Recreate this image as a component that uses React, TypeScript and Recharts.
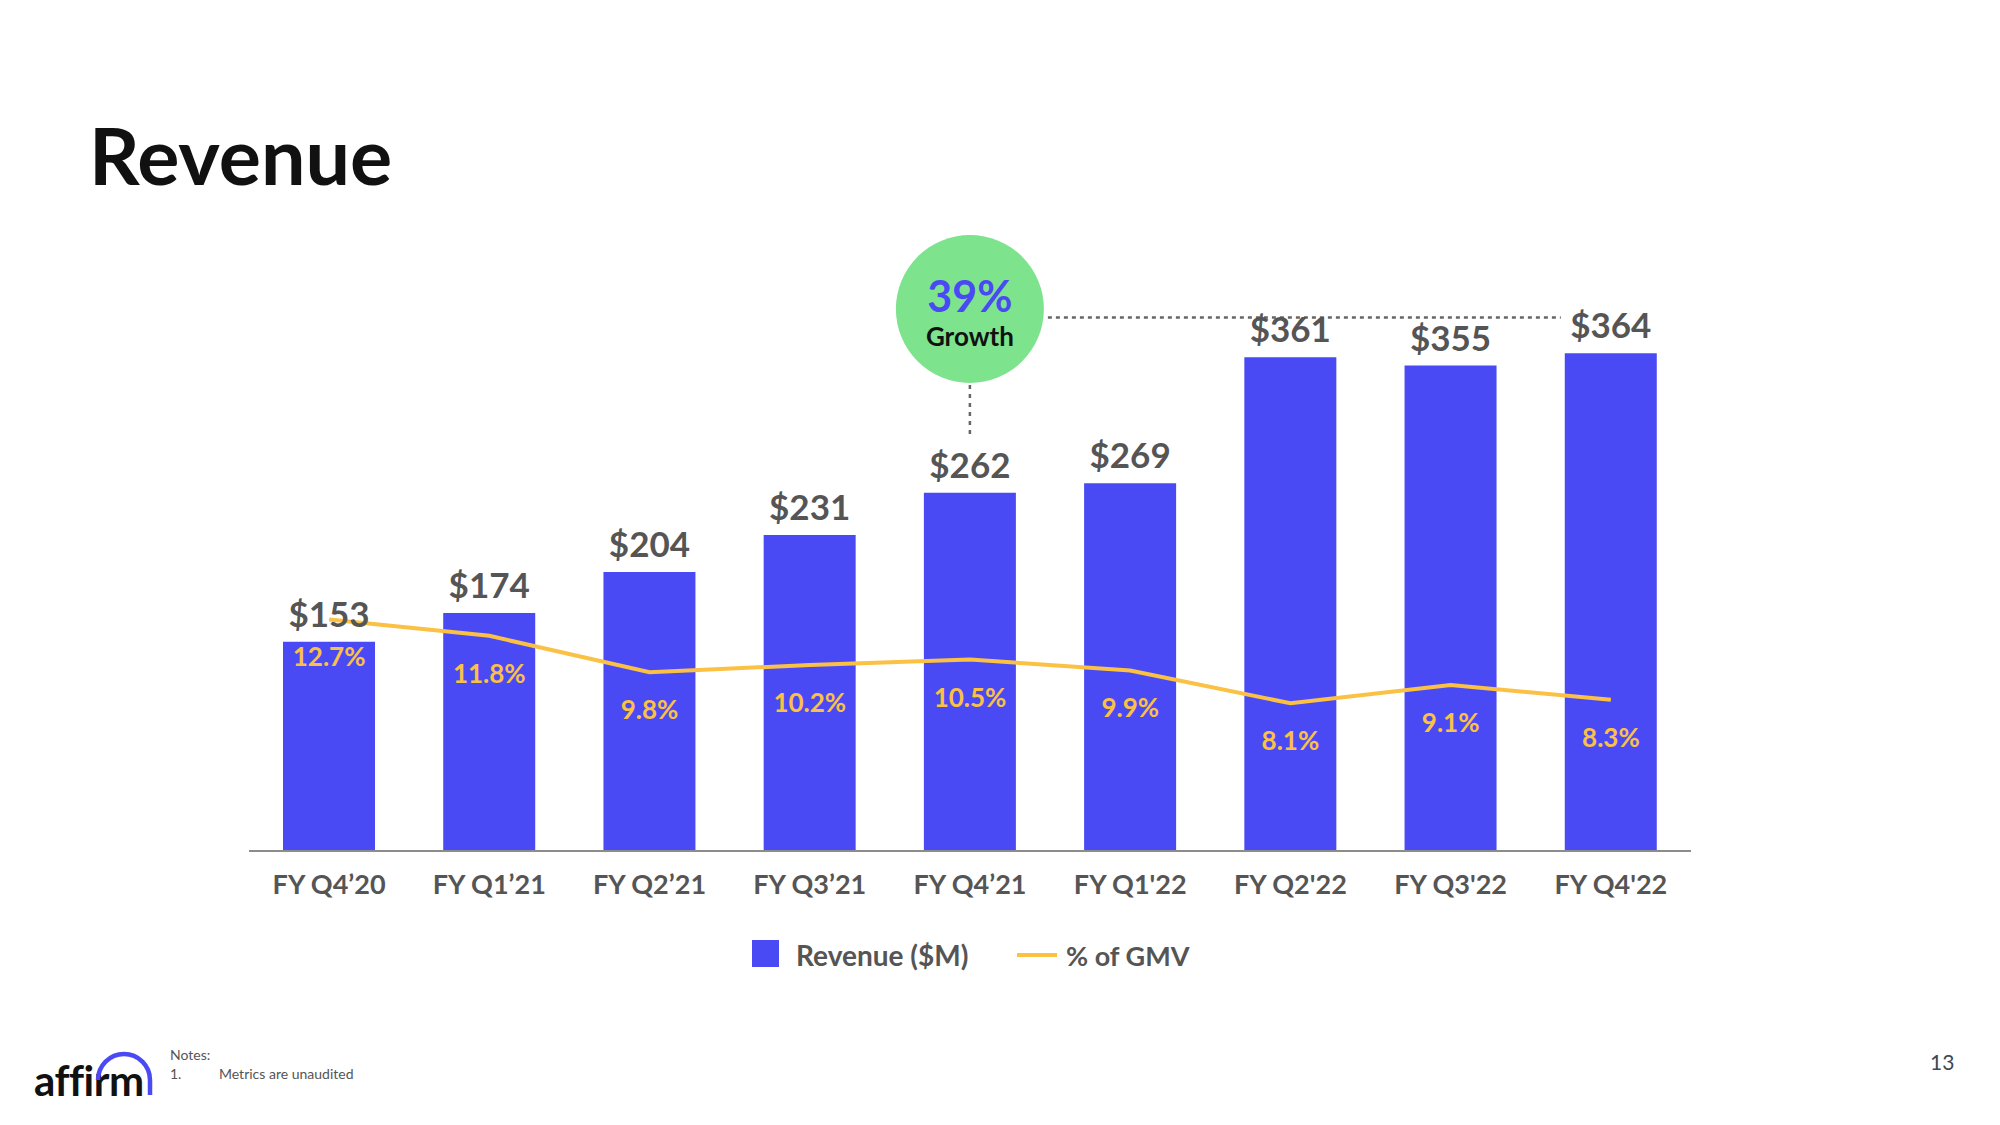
import React from 'react';
import { ComposedChart, Bar, Line, XAxis, YAxis, LabelList, Legend } from 'recharts';

const categories = ["FY Q4\u201920", "FY Q1\u201921", "FY Q2\u201921", "FY Q3\u201921", "FY Q4\u201921", "FY Q1'22", "FY Q2'22", "FY Q3'22", "FY Q4'22"];
const revenue = [153, 174, 204, 231, 262, 269, 361, 355, 364];
const gmvPct = [12.7, 11.8, 9.8, 10.2, 10.5, 9.9, 8.1, 9.1, 8.3];
const revenueLabels = ["$153", "$174", "$204", "$231", "$262", "$269", "$361", "$355", "$364"];
const pctLabels = ["12.7%", "11.8%", "9.8%", "10.2%", "10.5%", "9.9%", "8.1%", "9.1%", "8.3%"];
const growthIndex = 4;
const growthText = "39%";

const data = categories.map((c, i) => ({ name: c, revenue: revenue[i], pct: gmvPct[i], i }));

const W = 2000;
const H = 1125;
const M = { top: 304, right: 309, bottom: 214, left: 249 };
const PLOT_W = W - M.left - M.right;
const BAND = PLOT_W / categories.length;

const BLUE = '#4A4AF4';
const YELLOW = '#FBC144';
const GRAY = '#555555';
const FONT = 'Lato, "Open Sans", sans-serif';
const HEAVY = 700;

const RevenueLabel = (props: any) => {
  const { x, y, width, index } = props;
  const cx = x + width / 2;
  const els: any[] = [
    <text key="t" x={cx} y={y - 15} textAnchor="middle" fill={GRAY} fontSize={35} fontWeight={HEAVY} fontFamily={FONT}>
      {revenueLabels[index]}
    </text>,
  ];
  if (index === growthIndex) {
    const cy = 309;
    const r = 74;
    const lineY = 317.5;
    const endX = cx + (categories.length - 1 - index) * BAND - 50;
    els.push(
      <g key="g">
        <line x1={cx} y1={cy + r + 2} x2={cx} y2={y - 55} stroke="#666" strokeWidth={2.5} strokeDasharray="4 5" />
        <line x1={cx + r + 4} y1={lineY} x2={endX} y2={lineY} stroke="#666" strokeWidth={2.5} strokeDasharray="4 4" />
        <circle cx={cx} cy={cy} r={r} fill="#7DE38C" />
        <text x={cx} y={cy + 3} textAnchor="middle" fill={BLUE} fontSize={43} fontWeight={HEAVY} fontFamily={FONT}>{growthText}</text>
        <text x={cx} y={cy + 37} textAnchor="middle" fill="#111" fontSize={26} fontWeight={HEAVY} fontFamily={FONT}>Growth</text>
      </g>
    );
  }
  return <g>{els}</g>;
};

const PctLabel = (props: any) => {
  const { x, y, index } = props;
  return (
    <text x={x} y={y + 47} textAnchor="middle" fill={YELLOW} fontSize={26} fontWeight={HEAVY} fontFamily={FONT}>
      {pctLabels[index]}
    </text>
  );
};

const LegendContent = () => (
  <svg width={560} height={45}>
    <rect x={0} y={5} width={27} height={27} fill={BLUE} />
    <text x={44} y={31} fill={GRAY} fontSize={28} fontWeight={HEAVY} fontFamily={FONT}>Revenue ($M)</text>
    <line x1={265} y1={20} x2={305} y2={20} stroke={YELLOW} strokeWidth={4} />
    <text x={314} y={31} fill={GRAY} fontSize={27} fontWeight={HEAVY} fontFamily={FONT}>% of GMV</text>
  </svg>
);

export default function App() {
  return (
    <div style={{ position: 'absolute', left: 0, top: 0, width: W, height: H, background: '#fff', fontFamily: FONT, overflow: 'hidden' }}>
      <svg width={W} height={H} style={{ position: 'absolute', left: 0, top: 0 }}>
        <text x={89} y={185} fill="#111" fontSize={79} fontWeight={HEAVY} fontFamily={FONT}>Revenue</text>
        <text x={34} y={1096} fill="#111" fontSize={42} fontWeight={700} fontFamily={FONT} letterSpacing={-0.5}>affirm</text>
        <path d="M98,1080 A26,26 0 0 1 150,1080 L150,1095" fill="none" stroke={BLUE} strokeWidth={4.5} />
        <text x={170} y={1060} fill={GRAY} fontSize={14} fontFamily={FONT}>Notes:</text>
        <text x={170} y={1079} fill={GRAY} fontSize={14} fontFamily={FONT}>1.</text>
        <text x={219} y={1079} fill={GRAY} fontSize={14} fontFamily={FONT}>Metrics are unaudited</text>
        <text x={1930} y={1070} fill="#3c4858" fontSize={21} fontFamily={FONT}>13</text>
      </svg>
      <div style={{ position: 'absolute', left: 0, top: 0 }}>
        <ComposedChart width={W} height={H} data={data} margin={M} style={{ fontFamily: FONT }}>
          <XAxis
            dataKey="name"
            height={60}
            axisLine={{ stroke: '#8c8c8c', strokeWidth: 2 }}
            tickLine={false}
            tickSize={0}
            tickMargin={24}
            interval={0}
            tick={{ fill: GRAY, fontSize: 27, fontWeight: HEAVY, fontFamily: FONT }}
          />
          <YAxis yAxisId="left" hide domain={[0, 400]} />
          <YAxis yAxisId="right" orientation="right" hide domain={[0, 30]} />
          <Legend layout="horizontal" verticalAlign="middle" align="center" content={<LegendContent />}
            wrapperStyle={{ left: 752, top: 935, width: 560, height: 45 }} />
          <Bar yAxisId="left" dataKey="revenue" name="Revenue ($M)" fill={BLUE} barSize={92} isAnimationActive={false}>
            <LabelList dataKey="revenue" content={<RevenueLabel />} />
          </Bar>
          <Line yAxisId="right" dataKey="pct" name="% of GMV" stroke={YELLOW} strokeWidth={4} dot={false} activeDot={false} type="linear" isAnimationActive={false}>
            <LabelList dataKey="pct" content={<PctLabel />} />
          </Line>
        </ComposedChart>
      </div>
    </div>
  );
}
